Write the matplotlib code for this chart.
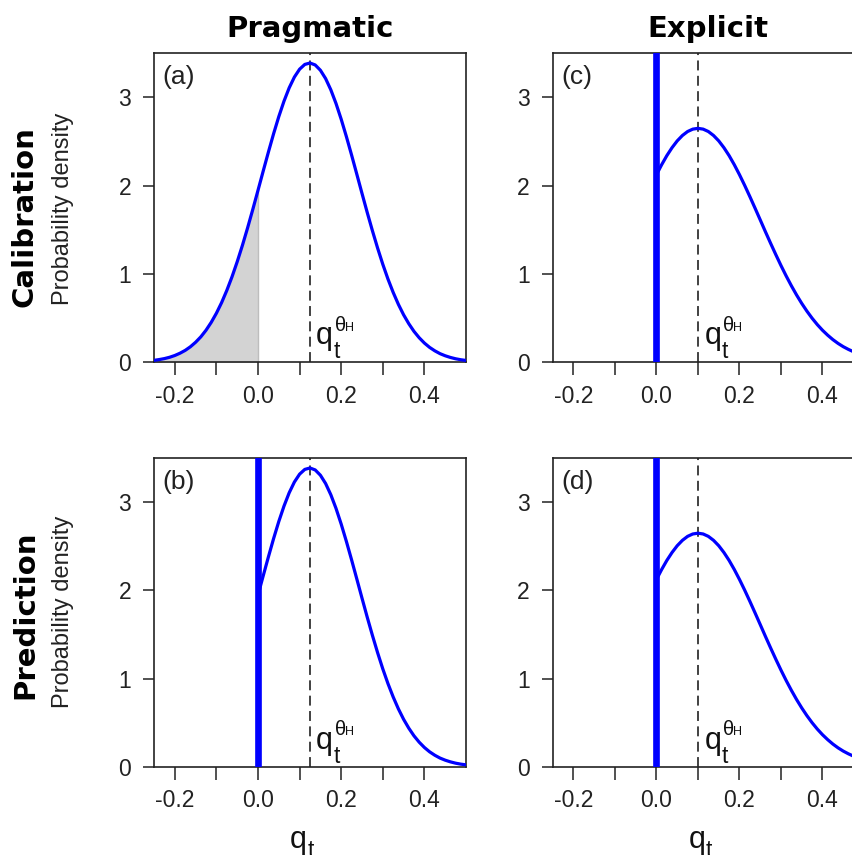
import numpy as np
import matplotlib
matplotlib.use("Agg")
import matplotlib.pyplot as plt

plt.rcParams['font.family'] = ['DejaVu Sans']
SANS = ['Liberation Sans', 'DejaVu Sans']

# density (a, b)
x_prag = [-0.2500, -0.2375, -0.2250, -0.2125, -0.2000, -0.1875, -0.1750, -0.1625,
          -0.1500, -0.1375, -0.1250, -0.1125, -0.1000, -0.0875, -0.0750, -0.0625,
          -0.0500, -0.0375, -0.0250, -0.0125, 0.0000, 0.0125, 0.0250, 0.0375,
          0.0500, 0.0625, 0.0750, 0.0875, 0.1000, 0.1125, 0.1250, 0.1375,
          0.1500, 0.1625, 0.1750, 0.1875, 0.2000, 0.2125, 0.2250, 0.2375,
          0.2500, 0.2625, 0.2750, 0.2875, 0.3000, 0.3125, 0.3250, 0.3375,
          0.3500, 0.3625, 0.3750, 0.3875, 0.4000, 0.4125, 0.4250, 0.4375,
          0.4500, 0.4625, 0.4750, 0.4875, 0.5000]
d_prag = [0.022, 0.031, 0.042, 0.057, 0.077, 0.103, 0.135, 0.176,
          0.227, 0.288, 0.363, 0.452, 0.556, 0.676, 0.814, 0.968,
          1.139, 1.324, 1.523, 1.732, 1.948, 2.166, 2.381, 2.589,
          2.783, 2.958, 3.109, 3.231, 3.320, 3.374, 3.390, 3.368,
          3.308, 3.214, 3.087, 2.932, 2.753, 2.556, 2.347, 2.131,
          1.913, 1.698, 1.491, 1.294, 1.110, 0.942, 0.791, 0.656,
          0.538, 0.437, 0.350, 0.278, 0.218, 0.169, 0.130, 0.098,
          0.074, 0.055, 0.040, 0.029, 0.021]

# density (c, d), only q_t >= 0
x_expl = [0.0000, 0.0125, 0.0250, 0.0375, 0.0500, 0.0625, 0.0750, 0.0875,
          0.1000, 0.1125, 0.1250, 0.1375, 0.1500, 0.1625, 0.1750, 0.1875,
          0.2000, 0.2125, 0.2250, 0.2375, 0.2500, 0.2625, 0.2750, 0.2875,
          0.3000, 0.3125, 0.3250, 0.3375, 0.3500, 0.3625, 0.3750, 0.3875,
          0.4000, 0.4125, 0.4250, 0.4375, 0.4500, 0.4625, 0.4750, 0.4875, 0.5000]
d_expl = [2.125, 2.238, 2.341, 2.431, 2.508, 2.569, 2.614, 2.641,
          2.650, 2.641, 2.614, 2.569, 2.508, 2.431, 2.341, 2.238,
          2.125, 2.004, 1.877, 1.746, 1.613, 1.479, 1.348, 1.220,
          1.096, 0.978, 0.867, 0.763, 0.667, 0.579, 0.499, 0.427,
          0.363, 0.307, 0.257, 0.214, 0.177, 0.146, 0.119, 0.096, 0.077]

q_theta_prag = 0.124
q_theta_expl = 0.10

col_titles = ['Pragmatic', 'Explicit']
row_titles = ['Calibration', 'Prediction']
panel_tags = ['(a)', '(b)', '(c)', '(d)']
xtick_vals = [-0.2, -0.1, 0.0, 0.1, 0.2, 0.3, 0.4]
xtick_labs = ['-0.2', '', '0.0', '', '0.2', '', '0.4']
ytick_vals = [0, 1, 2, 3]

W, H = 853, 855
PX = 0.72  # points per pixel at dpi 100
fig = plt.figure(figsize=(W / 100, H / 100), dpi=100)

# panel boxes in pixels: left, top, width, height
boxes = {
    '(a)': (154, 53.3, 312, 309),
    '(b)': (154, 458.3, 312, 308.4),
    '(c)': (552.7, 53.3, 311.3, 309),
    '(d)': (552.7, 458.3, 311.3, 308.4),
}

xp = np.array(x_prag)
dp = np.array(d_prag)


def q_label(ax, xy, coords, sup=True, dx=0, dy=0, tdy=-14):
    # q with subscript t, and optionally theta_H superscript
    kw = dict(xycoords=coords, textcoords='offset points', family=SANS,
              ha='left', va='baseline', color='#111111')
    ax.annotate('q', xy, xytext=(dx * PX, dy * PX), fontsize=22, **kw)
    ax.annotate('t', xy, xytext=((dx + 17.5) * PX, (dy + tdy) * PX), fontsize=16.5, **kw)
    if sup:
        ax.annotate('θ', xy, xytext=((dx + 18.5) * PX, (dy + 13.5) * PX), fontsize=14.5, **kw)
        ax.annotate('H', xy, xytext=((dx + 29) * PX, (dy + 13.6) * PX), fontsize=9, **kw)


for tag in panel_tags:
    l, t, w, h = boxes[tag]
    ax = fig.add_axes([l / W, 1 - (t + h) / H, w / W, h / H])
    ax.set_xlim(-0.25, 0.5)
    ax.set_ylim(0, 3.5)

    if tag == '(a)':
        m = xp <= 0
        ax.fill_between(xp[m], 0, dp[m], color='#d3d3d3', lw=0)
        ax.plot([0, 0], [0, dp[xp == 0][0]], color='#bdbdbd', lw=1)
        ax.plot(xp, dp, color='#0000ff', lw=2.3, zorder=3)
        qv = q_theta_prag
    elif tag == '(b)':
        m = xp >= 0
        ax.plot(xp[m], dp[m], color='#0000ff', lw=2.3, zorder=3)
        ax.axvline(0, color='#0000ff', lw=4.8, zorder=3)
        qv = q_theta_prag
    else:
        ax.plot(x_expl, d_expl, color='#0000ff', lw=2.3, zorder=3)
        ax.axvline(0, color='#0000ff', lw=4.8, zorder=3)
        qv = q_theta_expl

    ax.axvline(qv, color='#333333', lw=1.3, dashes=(5.5, 3), zorder=2)
    q_label(ax, (qv, 0.205), 'data', sup=True, dx=6.5)
    ax.text(-0.229, 3.23, tag, fontsize=19, family=SANS, ha='left', va='center',
            color='#222222')

    ax.set_xticks(xtick_vals)
    ax.set_xticklabels(xtick_labs)
    ax.set_yticks(ytick_vals)
    ax.set_yticklabels([str(v) for v in ytick_vals])
    ax.tick_params(direction='out', length=9, width=1.1, labelsize=16.5,
                   colors='#222222', pad=7)
    ax.tick_params(axis='y', length=8, pad=8.5)
    for lab in ax.get_xticklabels() + ax.get_yticklabels():
        lab.set_family(SANS)
    for s in ax.spines.values():
        s.set_linewidth(1.2)
        s.set_color('#222222')

    # x-axis label under the bottom row
    if tag in ('(b)', '(d)'):
        q_label(ax, ((w / 2 - 20) / w, -(848 - (t + h)) / h), 'axes fraction',
                sup=False, tdy=-9)

# column titles
fig.text(310 / W, 1 - 36.7 / H, col_titles[0], fontsize=21, fontweight='bold',
         ha='center', va='baseline')
fig.text(708 / W, 1 - 36.7 / H, col_titles[1], fontsize=21, fontweight='bold',
         ha='center', va='baseline')

# row titles and y labels
for name, yc, yl in [(row_titles[0], 217, 209), (row_titles[1], 615, 612)]:
    fig.text(25 / W, 1 - yc / H, name, fontsize=21, fontweight='bold',
             rotation=90, ha='center', va='center')
    fig.text(63 / W, 1 - yl / H, 'Probability density', fontsize=17, family=SANS,
             rotation=90, ha='center', va='center', color='#222222')

fig.savefig('out.png', dpi=100)
